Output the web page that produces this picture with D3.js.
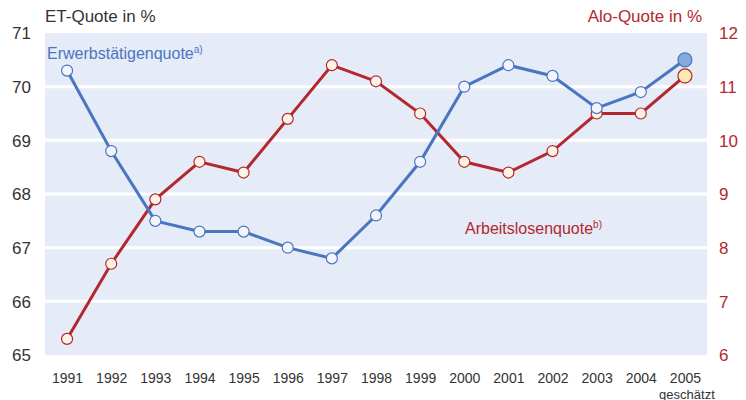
<!doctype html>
<html>
<head>
<meta charset="UTF-8">
<title>ET- und Alo-Quote</title>
<script src="https://d3js.org/d3.v7.min.js"></script>
<style>
  body { margin: 0; background: #fff; }
  text { font-family: "Liberation Sans", Arial, sans-serif; }
</style>
</head>
<body>
<script>
var years = [1991, 1992, 1993, 1994, 1995, 1996, 1997, 1998, 1999, 2000, 2001, 2002, 2003, 2004, 2005];
var etQuote = [70.3, 68.8, 67.5, 67.3, 67.3, 67.0, 66.8, 67.6, 68.6, 70.0, 70.4, 70.2, 69.6, 69.9, 70.5];
var aloQuote = [6.3, 7.7, 8.9, 9.6, 9.4, 10.4, 11.4, 11.1, 10.5, 9.6, 9.4, 9.8, 10.5, 10.5, 11.2];
var leftTicks = [65, 66, 67, 68, 69, 70, 71];
var rightTicks = [6, 7, 8, 9, 10, 11, 12];

var w = 746, h = 400;
var plotL = 45, plotR = 707, plotT = 33, plotB = 355;
var blue = "#4a76c0", red = "#b3282f";

var svg = d3.select("body").append("svg").attr("width", w).attr("height", h);

var x = d3.scaleLinear().domain([1990.5, 2005.5]).range([plotL, plotR]);
var yL = d3.scaleLinear().domain([65, 71]).range([plotB, plotT]);
var yR = d3.scaleLinear().domain([6, 12]).range([plotB, plotT]);

// background
svg.append("rect")
  .attr("x", plotL).attr("y", plotT)
  .attr("width", plotR - plotL).attr("height", plotB - plotT)
  .attr("fill", "#e5ebf7");

// grid lines
svg.selectAll("line.grid").data(leftTicks.slice(1, -1)).enter().append("line")
  .attr("class", "grid")
  .attr("x1", plotL).attr("x2", plotR)
  .attr("y1", function (d) { return yL(d); })
  .attr("y2", function (d) { return yL(d); })
  .attr("stroke", "#fff").attr("stroke-width", 3);

// left axis
var axL = svg.append("g").attr("transform", "translate(31,0)")
  .call(d3.axisLeft(yL).tickValues(leftTicks).tickFormat(d3.format("d")).tickSize(0).tickPadding(0));
axL.select(".domain").remove();
axL.selectAll("text").attr("font-size", 17).attr("fill", "#333").attr("dy", "0.35em")
  .style("font-family", "Liberation Sans, Arial, sans-serif");

// right axis
var axR = svg.append("g").attr("transform", "translate(719,0)")
  .call(d3.axisRight(yR).tickValues(rightTicks).tickFormat(d3.format("d")).tickSize(0).tickPadding(0));
axR.select(".domain").remove();
axR.selectAll("text").attr("font-size", 17).attr("fill", red).attr("dy", "0.35em")
  .style("font-family", "Liberation Sans, Arial, sans-serif");

// x axis
var axX = svg.append("g").attr("transform", "translate(0," + 373 + ")")
  .call(d3.axisBottom(x).tickValues(years).tickFormat(d3.format("d")).tickSize(0).tickPadding(0));
axX.select(".domain").remove();
axX.selectAll("text").attr("font-size", 14).attr("fill", "#333").attr("dy", "0.71em")
  .style("font-family", "Liberation Sans, Arial, sans-serif");

svg.append("text").attr("x", x(2005) + 2).attr("y", 399)
  .attr("text-anchor", "middle").attr("font-size", 13).attr("fill", "#333")
  .text("geschätzt");

// titles
svg.append("text").attr("x", 45).attr("y", 22).attr("font-size", 17).attr("fill", "#333")
  .text("ET-Quote in %");
svg.append("text").attr("x", 702).attr("y", 22).attr("text-anchor", "end")
  .attr("font-size", 17).attr("fill", red).text("Alo-Quote in %");

// series labels
var lab1 = svg.append("text").attr("x", 47).attr("y", 59).attr("font-size", 16).attr("fill", blue);
lab1.append("tspan").text("Erwerbstätigenquote");
lab1.append("tspan").attr("font-size", 10).attr("dy", -6).text("a)");

var lab2 = svg.append("text").attr("x", 465).attr("y", 234).attr("font-size", 16).attr("fill", red);
lab2.append("tspan").text("Arbeitslosenquote");
lab2.append("tspan").attr("font-size", 10).attr("dy", -6).text("b)");

function drawSeries(vals, y, color, fill, lastFill) {
  var line = d3.line()
    .x(function (d, i) { return x(years[i]); })
    .y(function (d) { return y(d); });
  svg.append("path").datum(vals)
    .attr("d", line).attr("fill", "none")
    .attr("stroke", color).attr("stroke-width", 3);
  svg.selectAll(null).data(vals).enter().append("circle")
    .attr("cx", function (d, i) { return x(years[i]); })
    .attr("cy", function (d) { return y(d); })
    .attr("r", function (d, i) { return i == vals.length - 1 ? 7 : 5.5; })
    .attr("fill", function (d, i) { return i == vals.length - 1 ? lastFill : fill; })
    .attr("stroke", color).attr("stroke-width", 1.2);
}

drawSeries(aloQuote, yR, red, "#fdf4e6", "#fbe8b4");
drawSeries(etQuote, yL, blue, "#f2f6fc", "#84a9dc");
</script>
</body>
</html>
